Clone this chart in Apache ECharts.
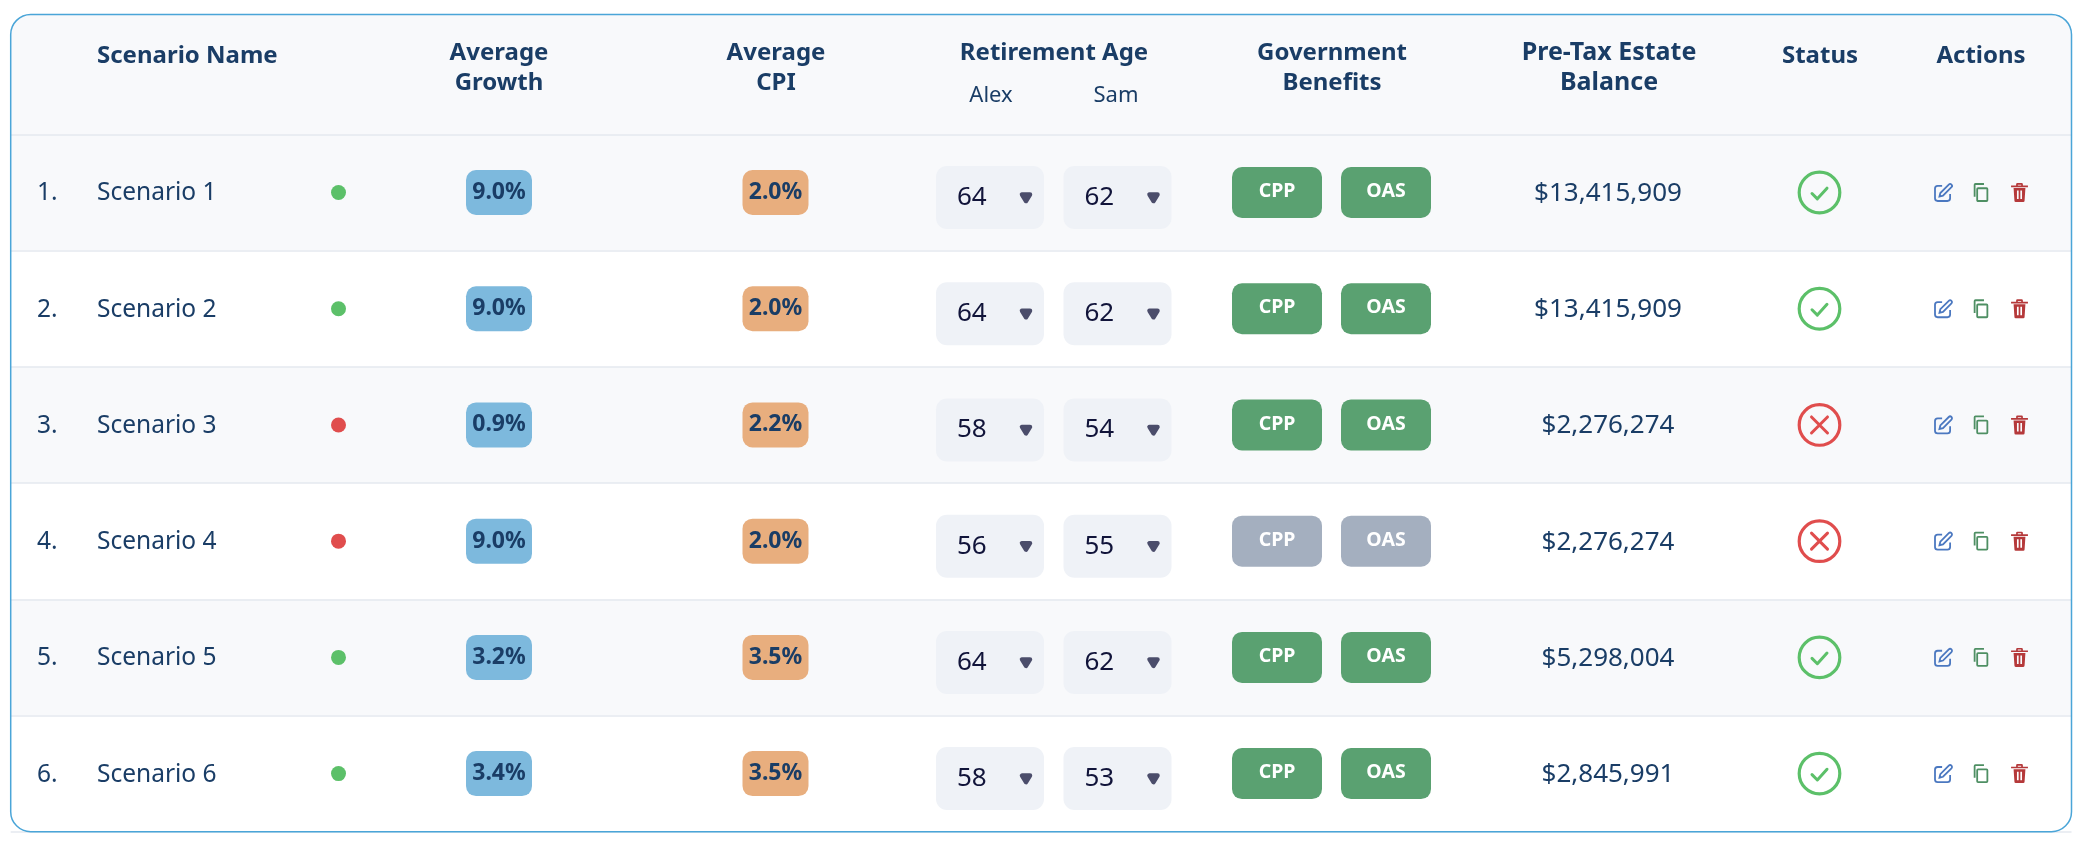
<!DOCTYPE html>
<html>
<head>
<meta charset="utf-8">
<style>
    html, body { margin: 0; padding: 0; background: #fff; }
    #chart { width: 2086px; height: 842px; }
</style>
<script src="https://cdn.jsdelivr.net/npm/echarts@6/dist/echarts.min.js"></script>
</head>
<body>
<div id="chart"></div>
<script>
const scenarios = ['Scenario 1', 'Scenario 2', 'Scenario 3', 'Scenario 4', 'Scenario 5', 'Scenario 6'];
const avgGrowth = [9.0, 9.0, 0.9, 9.0, 3.2, 3.4];
const avgCpi = [2.0, 2.0, 2.2, 2.0, 3.5, 3.5];
const alexAge = [64, 64, 58, 56, 64, 58];
const samAge = [62, 62, 54, 55, 62, 53];
const benefitsOn = [1, 1, 1, 0, 1, 1];
const estateBalance = [13415909, 13415909, 2276274, 2276274, 5298004, 2845991];
const statusOk = [1, 1, 0, 0, 1, 1];

const FONT = '"Noto Sans", sans-serif';
const NAVY = '#1a3d66';
const GREEN = '#5cc069';
const RED = '#e04d4d';
const rowIdx = scenarios.map((s, i) => i);

const EDIT_ICON = 'M11 4H6a3 3 0 0 0-3 3v11a3 3 0 0 0 3 3h11a3 3 0 0 0 3-3v-5M18.5 2.5a2.1 2.1 0 0 1 3 3L12 15l-4 1 1-4z';
const COPY_ICON = 'M9 7h10a1 1 0 0 1 1 1v13a1 1 0 0 1-1 1H9a1 1 0 0 1-1-1V8a1 1 0 0 1 1-1zM5 17V3a1 1 0 0 1 1-1h10';
const TRASH_ICON = 'M2 4h6V2.5A1.5 1.5 0 0 1 9.5 1h5A1.5 1.5 0 0 1 16 2.5V4h6v2H2zM10 4h4V3h-4zM5 7h14l-1 15a1.5 1.5 0 0 1-1.5 1.5h-9A1.5 1.5 0 0 1 6 22zM9 10v10h2V10zM13 10v10h2V10z';

function label(text, x, y, size, weight, fill, align) {
    return {
        type: 'text',
        style: {
            text: text, x: x, y: y, fill: fill || NAVY,
            fontFamily: FONT, fontSize: size, fontWeight: weight || 'normal',
            align: align || 'center', verticalAlign: 'middle'
        }
    };
}

function box(cx, cy, w, h, r, fill) {
    return {
        type: 'rect',
        shape: { x: cx - w / 2, y: cy - h / 2, width: w, height: h, r: r },
        style: { fill: fill }
    };
}

function icon(pathData, cx, cy, w, h, style) {
    return {
        type: 'path',
        shape: { pathData: pathData, x: cx - w / 2, y: cy - h / 2, width: w, height: h },
        style: style
    };
}

// one column of the table, every cell placed through the axes
function column(name, x, draw) {
    return {
        type: 'custom',
        name: name,
        clip: false,
        silent: true,
        data: rowIdx.map(i => [x, i]),
        renderItem: function (params, api) {
            const p = api.coord([api.value(0), api.value(1)]);
            return { type: 'group', children: draw(params.dataIndex, p[0], p[1]) };
        }
    };
}

function ageCell(ages) {
    return function (i, x, y) {
        const cy = y + 5;
        return [
            box(x, cy, 108, 63, 11, '#eff2f7'),
            label(String(ages[i]), x - 33, cy, 26, 'normal', '#11143a', 'left'),
            {
                type: 'polygon',
                shape: { points: [[x + 32, cy - 3], [x + 40, cy - 3], [x + 36, cy + 3.5]] },
                style: { fill: '#4b4d6b', stroke: '#4b4d6b', lineWidth: 4.5, lineJoin: 'round' }
            }
        ];
    };
}

function benefitCell(text) {
    return function (i, x, y) {
        return [
            box(x, y, 90, 51, 10, benefitsOn[i] ? '#5aa171' : '#a4afbf'),
            label(text, x, y - 1, 19.5, 'bold', '#fff')
        ];
    };
}

const headerTexts = [
    ['Scenario Name', 97, 56, 'left'],
    ['Average', 499, 53], ['Growth', 499, 83],
    ['Average', 776, 53], ['CPI', 776, 83],
    ['Retirement Age', 1054, 53],
    ['Government', 1332, 53], ['Benefits', 1332, 83],
    ['Pre-Tax Estate', 1609, 53, 'center', 25], ['Balance', 1609, 83, 'center', 25],
    ['Status', 1820, 56],
    ['Actions', 1981, 56]
];

const option = {
    animation: false,
    grid: { left: 10.7, right: 14.5, top: 134.4, height: 697.3 },
    xAxis: { type: 'value', min: 10.7, max: 2071.5, show: false },
    yAxis: {
        type: 'category',
        inverse: true,
        data: scenarios,
        axisLine: { show: false },
        axisTick: { show: false },
        axisLabel: { show: false },
        splitArea: { show: true, areaStyle: { color: ['#f8f9fb', '#ffffff'] } },
        splitLine: { show: true, lineStyle: { color: '#e5e8ef', width: 1.5 } }
    },
    graphic: [
        {
            type: 'rect',
            shape: { x: 10.7, y: 14.5, width: 2060.8, height: 120, r: [20, 20, 0, 0] },
            style: { fill: '#f8f9fb' }
        },
        {
            type: 'rect',
            z: 100,
            shape: { x: 10.7, y: 14.5, width: 2060.8, height: 817.2, r: 20 },
            style: { fill: 'none', stroke: '#4aa5d8', lineWidth: 1.5 }
        }
    ].concat(headerTexts.map(h => ({
        type: 'text',
        x: h[1],
        y: h[2],
        z: 10,
        style: {
            text: h[0], fill: NAVY, fontFamily: FONT, fontSize: h[4] || 24, fontWeight: 'bold',
            align: h[3] || 'center', verticalAlign: 'middle'
        }
    })), [['Alex', 991], ['Sam', 1116]].map(h => ({
        type: 'text',
        x: h[1],
        y: 96,
        z: 10,
        style: {
            text: h[0], fill: NAVY, fontFamily: FONT, fontSize: 22,
            align: 'center', verticalAlign: 'middle'
        }
    }))),
    series: [
        column('index', 37, (i, x, y) => [label((i + 1) + '.', x, y + 1, 24.5, 'normal', NAVY, 'left')]),
        column('name', 97, (i, x, y) => [label(scenarios[i], x, y + 1, 24.5, 'normal', NAVY, 'left')]),
        column('flag', 338.5, (i, x, y) => [{
            type: 'circle',
            shape: { cx: x, cy: y, r: 7.5 },
            style: { fill: statusOk[i] ? GREEN : RED }
        }]),
        column('growth', 499, (i, x, y) => [
            box(x, y, 66, 45, 10, '#7db9dd'),
            label(avgGrowth[i].toFixed(1) + '%', x, y, 23, 'bold')
        ]),
        column('cpi', 775.5, (i, x, y) => [
            box(x, y, 66, 45, 10, '#e8ae7e'),
            label(avgCpi[i].toFixed(1) + '%', x, y, 23, 'bold')
        ]),
        column('alex', 990, ageCell(alexAge)),
        column('sam', 1117.5, ageCell(samAge)),
        column('cpp', 1277, benefitCell('CPP')),
        column('oas', 1386, benefitCell('OAS')),
        column('balance', 1608, (i, x, y) => [
            label('$' + estateBalance[i].toLocaleString('en-US'), x, y + 1, 26)
        ]),
        column('status', 1819.5, (i, x, y) => {
            const color = statusOk[i] ? GREEN : RED;
            const mark = statusOk[i]
                ? 'M0 6L5 11L14 1'
                : 'M0 0L14 14M14 0L0 14';
            return [
                {
                    type: 'circle',
                    shape: { cx: x, cy: y, r: 20.3 },
                    style: { fill: 'none', stroke: color, lineWidth: 3.2 }
                },
                statusOk[i]
                    ? icon(mark, x, y + 1, 15, 11, { fill: 'none', stroke: color, lineWidth: 3, lineCap: 'round', lineJoin: 'round' })
                    : icon(mark, x, y, 16, 16, { fill: 'none', stroke: color, lineWidth: 3, lineCap: 'round' })
            ];
        }),
        column('actions', 1981, (i, x, y) => [
            icon(EDIT_ICON, x - 37.5, y, 17, 17, { fill: 'none', stroke: '#4b78c0', lineWidth: 1.8 }),
            icon(COPY_ICON, x, y, 15, 17, { fill: 'none', stroke: '#4e8f63', lineWidth: 1.8 }),
            icon(TRASH_ICON, x + 38.5, y, 17, 19, { fill: '#b5393a' })
        ])
    ]
};

const chart = echarts.init(document.getElementById('chart'));
chart.setOption(option);
</script>
</body>
</html>
